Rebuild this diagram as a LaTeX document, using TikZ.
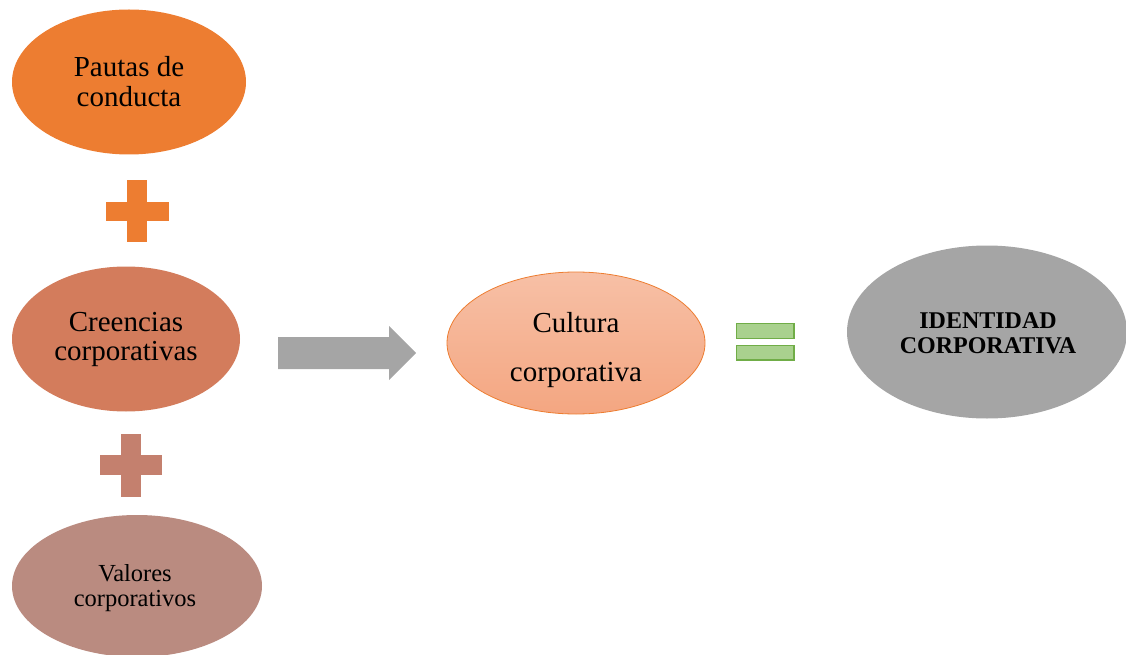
\documentclass[tikz,border=0pt]{standalone}
\usepackage{fontspec}
\setmainfont{Liberation Serif}
\usetikzlibrary{shapes.geometric}
\definecolor{orangeA}{HTML}{ED7D31}
\definecolor{coralB}{HTML}{D37C5C}
\definecolor{roseC}{HTML}{BA8B80}
\definecolor{plusB}{HTML}{C4806E}
\definecolor{peachTop}{HTML}{F7C0A6}
\definecolor{peachBot}{HTML}{F4A681}
\definecolor{greyD}{HTML}{A5A5A5}
\definecolor{eqFill}{HTML}{A9D18E}
\definecolor{eqLine}{HTML}{70AD47}
\tikzset{
  blob/.style={ellipse, draw=none, inner sep=0pt, align=center, text=black},
  label text/.style={inner sep=0pt, align=center, text=black},
  eqbar/.style={fill=eqFill, draw=eqLine, line width=1.2pt}
}
\begin{document}
\begin{tikzpicture}[x=1pt, y=-1pt]
\useasboundingbox (0,0) rectangle (1126,655);

% left column of ingredients
\node[blob, fill=orangeA, minimum width=234pt, minimum height=145pt,
      font=\fontsize{29}{30}\selectfont] (pautas) at (129,82)
      {Pautas de\\conducta};
\node[blob, fill=coralB, minimum width=228pt, minimum height=145pt,
      font=\fontsize{29}{29}\selectfont] (creencias) at (126,339)
      {Creencias\\corporativas};
\node[blob, fill=roseC, minimum width=250pt, minimum height=142pt] (valores) at (137,586) {};
\node[label text, font=\fontsize{24.5}{25}\selectfont] (valorestext) at (135,588)
      {Valores\\corporativos};

% plus signs between them
\coordinate (p1) at (137,211);
\fill[orangeA] ([xshift=-10pt,yshift=31pt]p1) rectangle ([xshift=10pt,yshift=-31pt]p1);
\fill[orangeA] ([xshift=-31.5pt,yshift=9.5pt]p1) rectangle ([xshift=31.5pt,yshift=-9.5pt]p1);
\coordinate (p2) at (131,465);
\fill[plusB] ([xshift=-10pt,yshift=31.5pt]p2) rectangle ([xshift=10pt,yshift=-31.5pt]p2);
\fill[plusB] ([xshift=-31pt,yshift=10pt]p2) rectangle ([xshift=31pt,yshift=-10pt]p2);

% block arrow
\fill[greyD] (278,337) -- (389,337) -- (389,326) -- (416,353) -- (389,380)
  -- (389,369) -- (278,369) -- cycle;

% result
\node[blob, draw=orangeA, line width=0.8pt, top color=peachTop, bottom color=peachBot,
      minimum width=258pt, minimum height=142pt] (cultura) at (576,343) {};
\node[label text, font=\fontsize{29}{49}\selectfont]
      (culturatext) at (576,350) {Cultura\\corporativa};

% equals sign
\draw[eqbar] (736.5,323.5) rectangle (794,338.5);
\draw[eqbar] (736.5,345.5) rectangle (794,360);

\node[blob, fill=greyD, minimum width=280pt, minimum height=173pt] (identidad) at (987,332) {};
\node[label text, font=\bfseries\fontsize{24}{25}\selectfont]
      (identidadtext) at (988,333) {IDENTIDAD\\CORPORATIVA};
\end{tikzpicture}
\end{document}
